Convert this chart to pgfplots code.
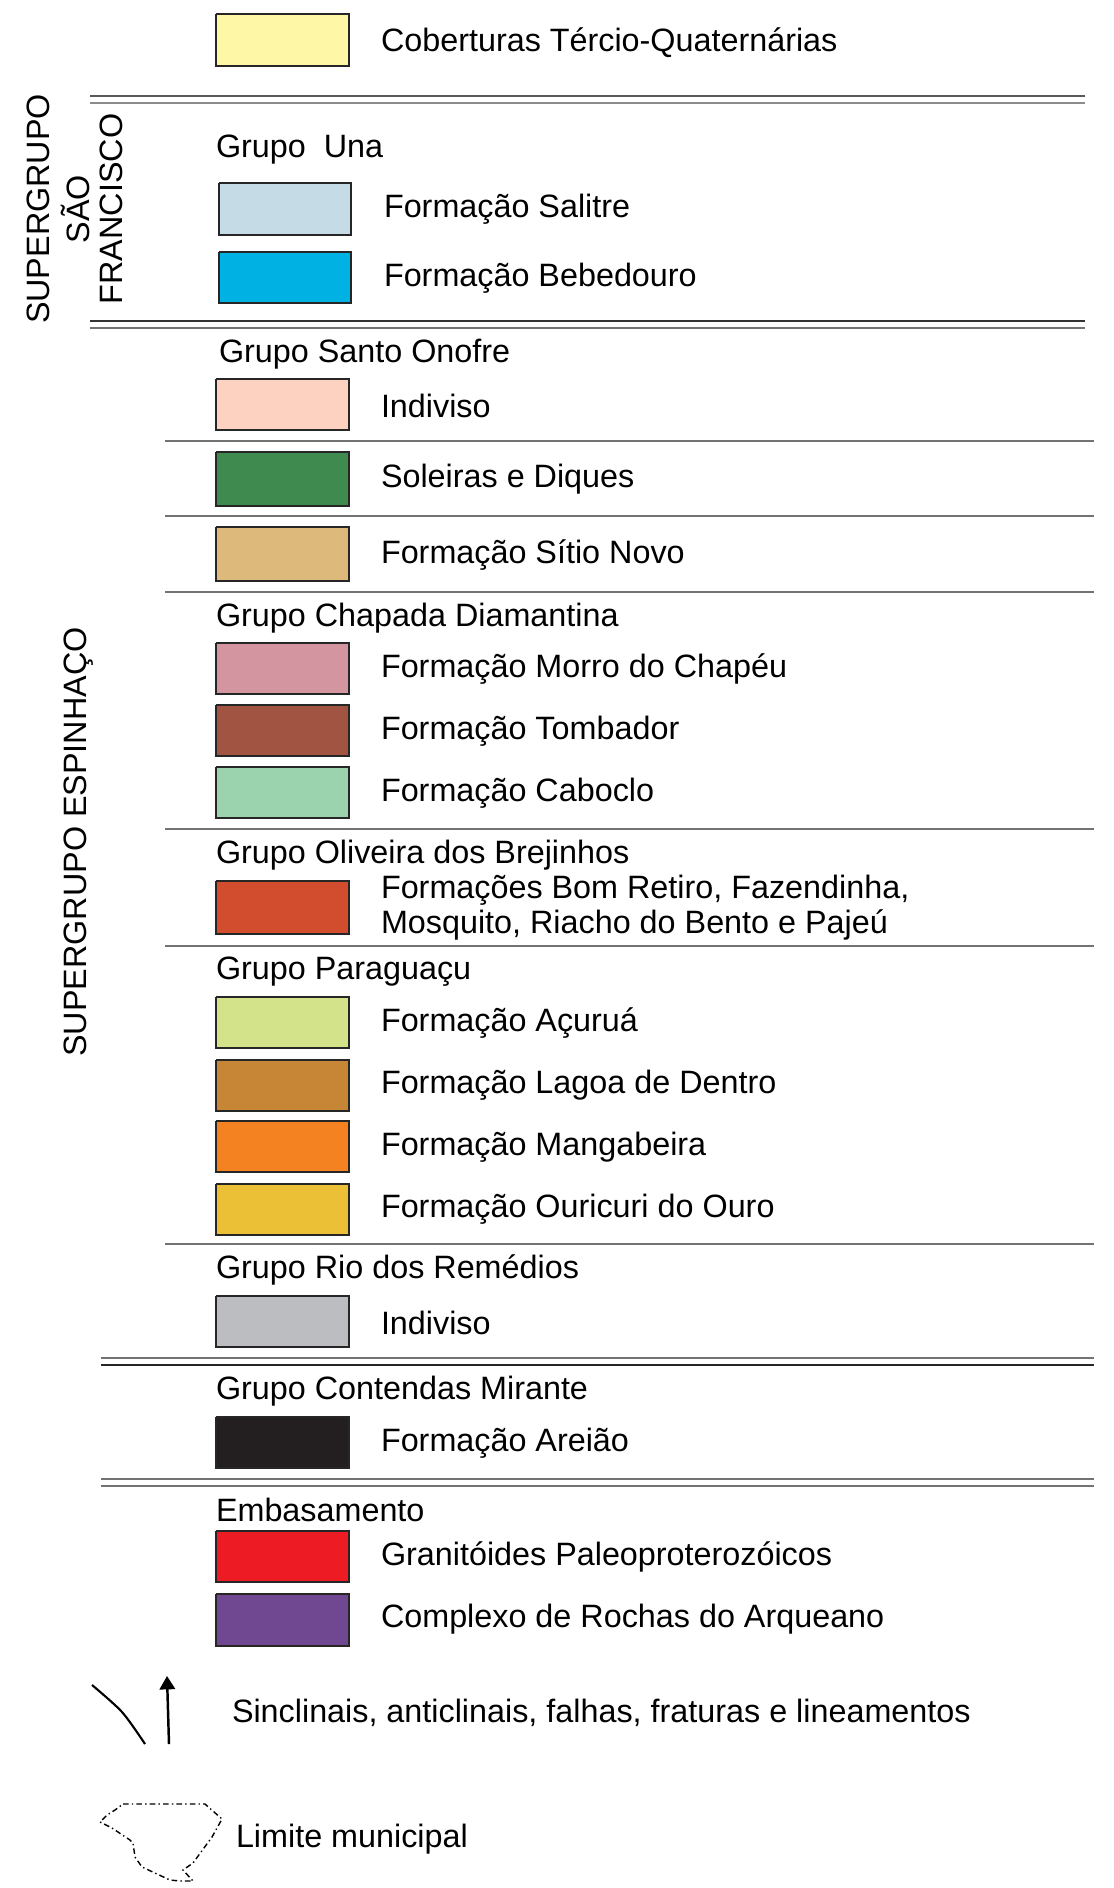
\documentclass[border=0pt]{standalone}
\usepackage{pgfplots}
\pgfplotsset{compat=1.18}
\usepackage{fontspec}
\setmainfont{Liberation Sans}
\usetikzlibrary{arrows.meta}
\tikzset{lbl/.style={anchor=west, inner sep=0pt, outer sep=0pt, font=\fontsize{9.2}{11}\selectfont}}
\begin{document}
\fontsize{9.2}{11}\selectfont
\begin{tikzpicture}
\begin{axis}[width=11.13cm, height=18.88cm, scale only axis,
  xmin=0, xmax=1113, ymin=0, ymax=1888, y dir=reverse,
  axis lines=none, clip=false,
  box/.style={draw=black!85, line width=0.35pt}]
\addplot[draw=none] coordinates {(0,0) (1113,1888)};
% ---- swatches
\addplot[box, fill={rgb,255:red,254;green,247;blue,166}] coordinates {(216,14) (349,14) (349,66) (216,66) (216,14)};
\addplot[box, fill={rgb,255:red,197;green,220;blue,230}] coordinates {(219,183) (351,183) (351,235) (219,235) (219,183)};
\addplot[box, fill={rgb,255:red,0;green,177;blue,227}] coordinates {(219,252) (351,252) (351,303) (219,303) (219,252)};
\addplot[box, fill={rgb,255:red,253;green,210;blue,192}] coordinates {(216,379) (349,379) (349,430) (216,430) (216,379)};
\addplot[box, fill={rgb,255:red,63;green,139;blue,79}] coordinates {(216,452) (349,452) (349,506) (216,506) (216,452)};
\addplot[box, fill={rgb,255:red,221;green,185;blue,123}] coordinates {(216,527) (349,527) (349,581) (216,581) (216,527)};
\addplot[box, fill={rgb,255:red,211;green,150;blue,161}] coordinates {(216,643) (349,643) (349,694) (216,694) (216,643)};
\addplot[box, fill={rgb,255:red,162;green,84;blue,67}] coordinates {(216,705) (349,705) (349,756) (216,756) (216,705)};
\addplot[box, fill={rgb,255:red,155;green,211;blue,174}] coordinates {(216,767) (349,767) (349,818) (216,818) (216,767)};
\addplot[box, fill={rgb,255:red,210;green,77;blue,45}] coordinates {(216,881) (349,881) (349,934) (216,934) (216,881)};
\addplot[box, fill={rgb,255:red,211;green,227;blue,138}] coordinates {(216,997) (349,997) (349,1048) (216,1048) (216,997)};
\addplot[box, fill={rgb,255:red,198;green,134;blue,54}] coordinates {(216,1060) (349,1060) (349,1111) (216,1111) (216,1060)};
\addplot[box, fill={rgb,255:red,245;green,130;blue,32}] coordinates {(216,1121) (349,1121) (349,1172) (216,1172) (216,1121)};
\addplot[box, fill={rgb,255:red,235;green,192;blue,54}] coordinates {(216,1184) (349,1184) (349,1235) (216,1235) (216,1184)};
\addplot[box, fill={rgb,255:red,188;green,189;blue,192}] coordinates {(216,1296) (349,1296) (349,1347) (216,1347) (216,1296)};
\addplot[box, fill={rgb,255:red,35;green,31;blue,32}] coordinates {(216,1417) (349,1417) (349,1468) (216,1468) (216,1417)};
\addplot[box, fill={rgb,255:red,237;green,28;blue,36}] coordinates {(216,1531) (349,1531) (349,1582) (216,1582) (216,1531)};
\addplot[box, fill={rgb,255:red,111;green,72;blue,145}] coordinates {(216,1594) (349,1594) (349,1646) (216,1646) (216,1594)};
% ---- separator lines
\addplot[black!65, line width=0.5pt] coordinates {(90,96) (1085,96)};
\addplot[black!45, line width=0.8pt] coordinates {(90,103) (1085,103)};
\addplot[black!80, line width=0.5pt] coordinates {(90,321) (1085,321)};
\addplot[black!55, line width=0.6pt] coordinates {(90,328) (1085,328)};
\foreach \yy in {441,516,592,829,946,1244} {
  \edef\temp{\noexpand\addplot[black!55, line width=0.6pt] coordinates {(165,\yy) (1094,\yy)};}\temp
}
\addplot[black!55, line width=0.6pt] coordinates {(101,1358) (1094,1358)};
\addplot[black!85, line width=0.5pt] coordinates {(101,1365) (1094,1365)};
\addplot[black!55, line width=0.6pt] coordinates {(101,1479) (1094,1479)};
\addplot[black!55, line width=0.6pt] coordinates {(101,1486) (1094,1486)};
% ---- symbols
\addplot[black, line width=0.6pt, smooth] coordinates {(92,1685) (122,1712) (145,1744)};
\addplot[black, line width=0.7pt, -{Triangle[width=4.4pt,length=3.8pt]}] coordinates {(169,1744) (167,1676)};
\addplot[black, line width=0.4pt, dash pattern=on 1.6pt off 0.9pt on 0.4pt off 0.9pt] coordinates {
 (123,1804) (205,1804) (222,1819) (212,1837) (193,1863) (183,1870) (193,1881)
 (180,1881) (170,1880) (142,1867) (135,1857) (133,1843) (130,1840) (112,1828)
 (100,1822) (107,1815) (115,1810) (123,1804)};
% ---- texts
\node[lbl] at (axis cs:381,43) {Coberturas Tércio-Quaternárias};
\node[lbl] at (axis cs:216,150) {Grupo\ \ Una};
\node[lbl] at (axis cs:384,209) {Formação Salitre};
\node[lbl] at (axis cs:384,278) {Formação Bebedouro};
\node[lbl] at (axis cs:219,354) {Grupo Santo Onofre};
\node[lbl] at (axis cs:381,406) {Indiviso};
\node[lbl] at (axis cs:381,479) {Soleiras e Diques};
\node[lbl] at (axis cs:381,555) {Formação Sítio Novo};
\node[lbl] at (axis cs:216,618) {Grupo Chapada Diamantina};
\node[lbl] at (axis cs:381,669) {Formação Morro do Chapéu};
\node[lbl] at (axis cs:381,731) {Formação Tombador};
\node[lbl] at (axis cs:381,793) {Formação Caboclo};
\node[lbl] at (axis cs:216,855) {Grupo Oliveira dos Brejinhos};
\node[lbl] at (axis cs:381,890) {Formações Bom Retiro, Fazendinha,};
\node[lbl] at (axis cs:381,925) {Mosquito, Riacho do Bento e Pajeú};
\node[lbl] at (axis cs:216,972) {Grupo Paraguaçu};
\node[lbl] at (axis cs:381,1023) {Formação Açuruá};
\node[lbl] at (axis cs:381,1085) {Formação Lagoa de Dentro};
\node[lbl] at (axis cs:381,1147) {Formação Mangabeira};
\node[lbl] at (axis cs:381,1209) {Formação Ouricuri do Ouro};
\node[lbl] at (axis cs:216,1270) {Grupo Rio dos Remédios};
\node[lbl] at (axis cs:381,1323) {Indiviso};
\node[lbl] at (axis cs:216,1391) {Grupo Contendas Mirante};
\node[lbl] at (axis cs:381,1443) {Formação Areião};
\node[lbl] at (axis cs:216,1510) {Embasamento};
\node[lbl] at (axis cs:381,1557) {Granitóides Paleoproterozóicos};
\node[lbl] at (axis cs:381,1619) {Complexo de Rochas do Arqueano};
\node[lbl] at (axis cs:232,1713) {Sinclinais, anticlinais, falhas, fraturas e lineamentos};
\node[lbl] at (axis cs:236,1839) {Limite municipal};
\node[lbl, anchor=center, rotate=90] at (axis cs:38,209) {SUPERGRUPO};
\node[lbl, anchor=center, rotate=90] at (axis cs:75,209) {SÃO};
\node[lbl, anchor=center, rotate=90] at (axis cs:111,209) {FRANCISCO};
\node[lbl, anchor=center, rotate=90] at (axis cs:79,842) {SUPERGRUPO ESPINHAÇO};
\end{axis}
\end{tikzpicture}
\end{document}
